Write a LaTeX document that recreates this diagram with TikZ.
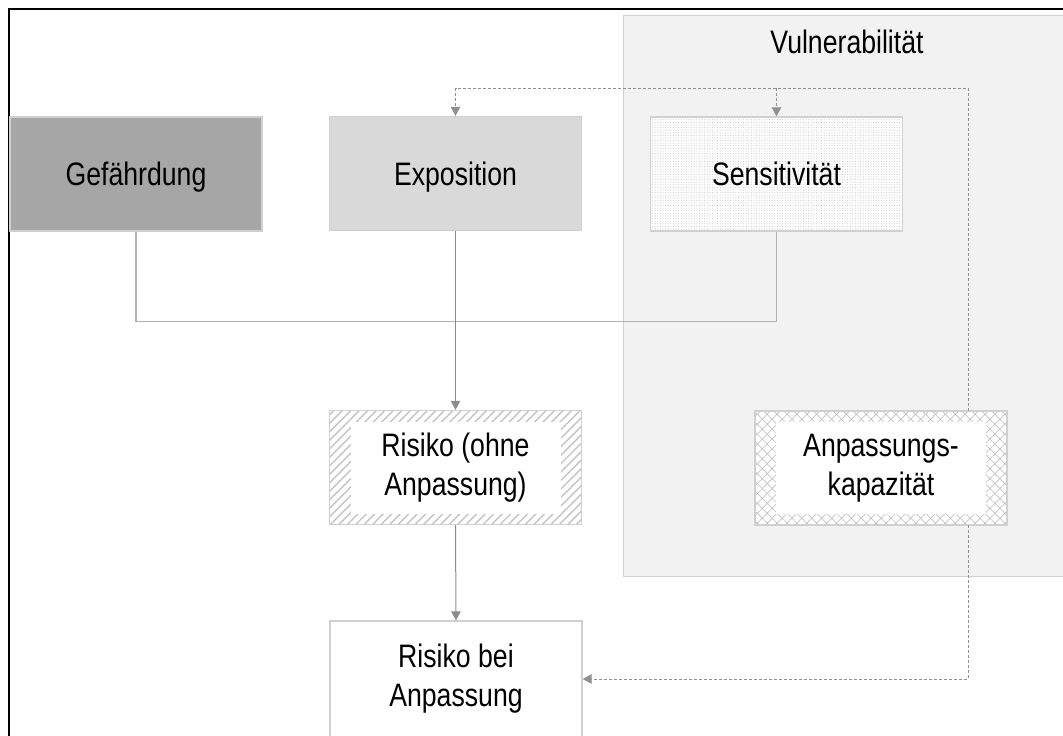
\documentclass[tikz,border=0pt]{standalone}
\usepackage{fontspec}
\setmainfont{Liberation Sans}[FakeStretch=0.82]
\usetikzlibrary{arrows.meta,patterns,patterns.meta}
\definecolor{gefgray}{HTML}{A6A6A6}
\definecolor{expgray}{HTML}{D9D9D9}
\definecolor{vulgray}{HTML}{F2F2F2}
\definecolor{bordergray}{HTML}{D0D0D0}
\definecolor{linegray}{HTML}{8C8C8C}
\definecolor{brackgray}{HTML}{B0B0B0}
\definecolor{dashgray}{HTML}{909090}
\definecolor{patgray}{HTML}{C4C4C4}
\definecolor{dotgray}{HTML}{C8C8C8}
\tikzset{
  boxnode/.style={draw=bordergray, line width=1.3pt, minimum width=252pt, minimum height=114pt,
    align=center, inner sep=0pt, font=\fontsize{32.5}{39}\selectfont},
  oneline/.style={text height=23.5pt, text depth=0pt},
  bandinner/.style={path picture={\fill[white]
      ([xshift=21pt,yshift=-11pt]path picture bounding box.north west) rectangle
      ([xshift=-21pt,yshift=11pt]path picture bounding box.south east);}},
  crossband/.style={path picture={
      \fill[pattern={Lines[angle=-45,distance=7pt,line width=0.7pt]}, pattern color=patgray]
        (path picture bounding box.north west) rectangle (path picture bounding box.south east);
      \fill[white]
      ([xshift=21pt,yshift=-11pt]path picture bounding box.north west) rectangle
      ([xshift=-21pt,yshift=11pt]path picture bounding box.south east);}},
  solidarrow/.style={draw=linegray, line width=1pt, -{Triangle[length=9pt,width=9.5pt]}},
  dashline/.style={draw=dashgray, line width=1pt, dash pattern=on 3pt off 2pt},
  dasharrow/.style={dashline, -{Triangle[length=9pt,width=9.5pt,fill=dashgray]}},
}
\begin{document}
\begin{tikzpicture}[x=1pt,y=-1pt]
\useasboundingbox (0,0) rectangle (1063,736);
\fill[white] (0,0) rectangle (1063,736);
% frame
\draw[black, line width=2.2pt] (9,745) -- (9,9) -- (1075,9);
% vulnerability container
\node[draw=bordergray, fill=vulgray, line width=1.3pt, minimum width=452pt, minimum height=561pt,
      inner sep=0pt, anchor=north west] (vul) at (623,15) {};
\node[font=\fontsize{32.5}{39}\selectfont, anchor=base] (vultxt) at (847,53) {Vulnerabilität};
% boxes
\node[boxnode, oneline, fill=gefgray] (gef) at (136,174) {Gefährdung};
\node[boxnode, oneline, fill=expgray] (expo) at (455.5,173.5) {Exposition};
\node[boxnode, oneline, preaction={fill=white}, pattern={Dots[distance=2.6pt,radius=0.55pt]},
      pattern color=dotgray] (sens) at (776.5,174) {Sensitivität};
\node[boxnode, preaction={fill=white}, pattern={Lines[angle=45,distance=6pt,line width=1.4pt]},
      pattern color=patgray, bandinner] (risk) at (455.5,467.5) {Risiko (ohne\\Anpassung)};
\node[boxnode, preaction={fill=white},
      pattern={Lines[angle=45,distance=7pt,line width=0.7pt]}, pattern color=patgray,
      crossband] (adapt) at (881,468) {Anpassungs-\\kapazität};
\node[boxnode, fill=white, minimum height=116pt] (riskadapt) at (456,679) {Risiko bei\\Anpassung};
% solid connectors
\draw[draw=brackgray, line width=1.3pt] (gef.south) -- ++(0,90) coordinate (bk) -| (sens.south);
\draw[solidarrow] (expo.south) -- (risk.north);
\draw[solidarrow] (risk.south) -- (riskadapt.north);
% dashed connectors
\coordinate (dtop) at (968,88);
\draw[dasharrow] (adapt.north -| dtop) -- (dtop) -| (expo.north);
\draw[dasharrow] (dtop -| sens.north) -- (sens.north);
\draw[dasharrow] (adapt.south -| dtop) |- (riskadapt.east);
\end{tikzpicture}
\end{document}
